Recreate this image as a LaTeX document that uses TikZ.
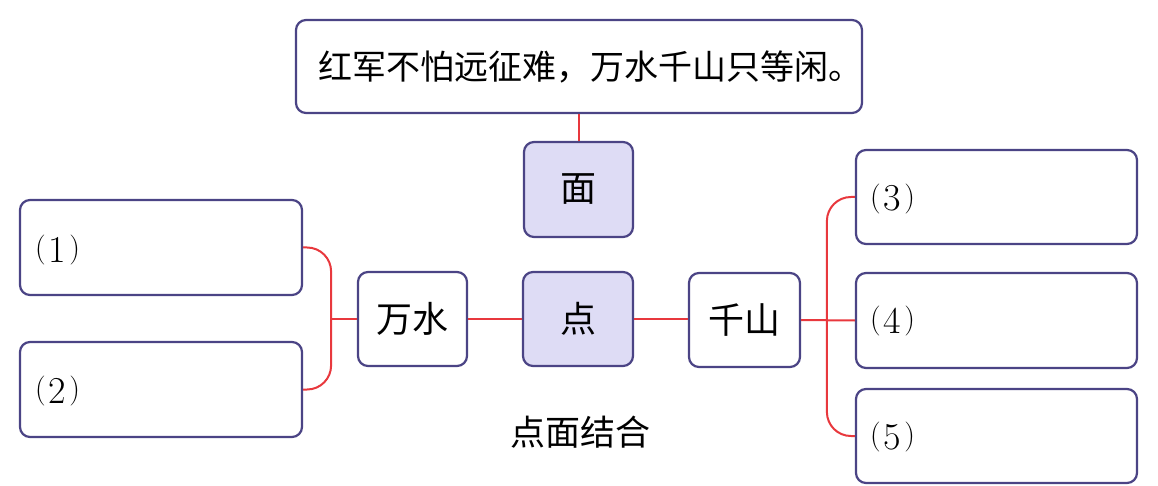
\documentclass[tikz,border=0pt]{standalone}
\usepackage{fontspec}
\newfontfamily\cjk{Noto Sans CJK SC}
\usetikzlibrary{calc}
\definecolor{bordc}{HTML}{4B4485}
\definecolor{fillc}{HTML}{DEDCF5}
\definecolor{linec}{HTML}{E8383D}
\newcommand{\numlab}[1]{\raisebox{4.5pt}{\fontsize{30}{34}\selectfont(}\kern3pt{\fontsize{38}{40}\selectfont #1}\kern3pt\raisebox{4.5pt}{\fontsize{30}{34}\selectfont)}}
\tikzset{
  box/.style={draw=bordc, line width=2.2pt, rounded corners=10pt, fill=white, inner sep=0pt, anchor=center},
  hbox/.style={box, fill=fillc},
  link/.style={draw=linec, line width=2pt},
  cjkt/.style={font=\cjk\fontsize{36}{40}\selectfont},
  numt/.style={inner sep=0pt, anchor=base west}
}
\begin{document}
\begin{tikzpicture}[x=1pt,y=-1pt]
\useasboundingbox (0,0) rectangle (1158,486);
\node[box, minimum width=563pt, minimum height=93pt, font=\cjk\fontsize{34}{40}\selectfont] (top) at (579,66.5) {\kern22pt 红军不怕远征难，万水千山只等闲。};
\node[hbox, minimum width=109pt, minimum height=95pt, cjkt] (mian) at (578.5,189.5) {面};
\node[hbox, minimum width=110pt, minimum height=94pt, cjkt] (dian) at (578,319) {点};
\node[box, minimum width=109pt, minimum height=94pt, cjkt] (wanshui) at (412.5,319) {万水};
\node[box, minimum width=111pt, minimum height=94pt, cjkt] (qianshan) at (744.5,320) {千山};
\node[box, minimum width=282pt, minimum height=95pt] (b1) at (161,247.5) {};
\node[box, minimum width=282pt, minimum height=95pt] (b2) at (161,389.5) {};
\node[box, minimum width=281pt, minimum height=94pt] (b3) at (996.5,197) {};
\node[box, minimum width=281pt, minimum height=95pt] (b4) at (996.5,320.5) {};
\node[box, minimum width=281pt, minimum height=94pt] (b5) at (996.5,436) {};
\node[numt] (l1) at (35,262) {\numlab{1}};
\node[numt] (l2) at (35,403) {\numlab{2}};
\node[numt] (l3) at (870,211) {\numlab{3}};
\node[numt] (l4) at (870,333) {\numlab{4}};
\node[numt] (l5) at (870,449) {\numlab{5}};
\node[font=\cjk\fontsize{35}{40}\selectfont] (cap) at (580,432) {点面结合};
% connectors
\draw[link] (mian.north |- top.south) -- (mian.north);
\draw[link] (wanshui.east) -- (dian.west);
\draw[link] (dian.east) -- (qianshan.west |- dian.east);
\coordinate (lj) at ($(b1.east)+(28,0)$);
\draw[link, rounded corners=24pt] (b1.east) -| (lj |- b2.east) -- (b2.east);
\draw[link] (wanshui.west) -- (lj |- wanshui.west);
\coordinate (rj) at ($(b3.west)+(-28,0)$);
\draw[link, rounded corners=24pt] (b3.west) -| (rj |- b5.west) -- (b5.west);
\draw[link] (qianshan.east) -- (b4.west);
\end{tikzpicture}
\end{document}
